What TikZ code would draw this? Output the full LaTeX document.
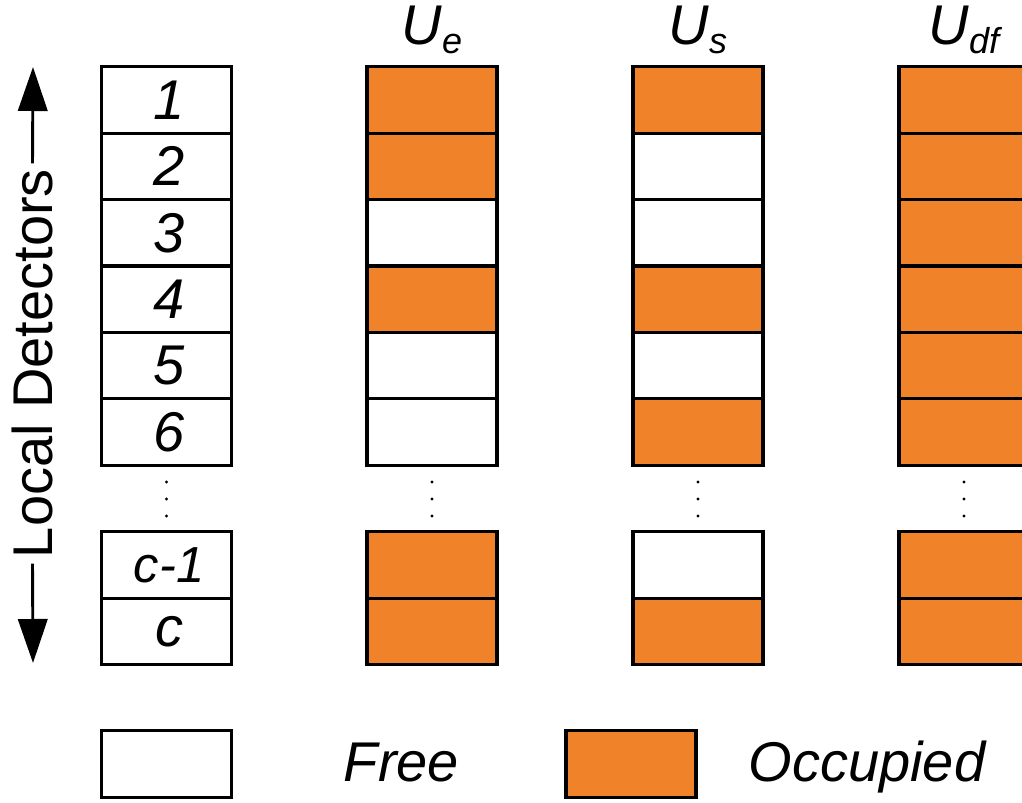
\documentclass[tikz,border=0pt]{standalone}
\usepackage{fontspec}
\setmainfont{Liberation Sans}
\usepackage{xcolor}
\usetikzlibrary{arrows.meta,positioning}
\definecolor{occ}{HTML}{F0832A}
\newcommand{\usub}[1]{\textit{U\raisebox{-6pt}{\fontsize{27}{30}\selectfont #1}}}

\begin{document}
\begin{tikzpicture}[x=0.75pt,y=-0.75pt,
  big/.style={font=\fontsize{42}{48}\selectfont},
  cell/.style={draw,line width=2.4pt,minimum width=97.5pt,minimum height=49.8pt,
    inner sep=0pt,big,font=\fontsize{42}{48}\selectfont\itshape},
  head/.style={big,anchor=base,inner sep=0pt},
  legtxt/.style={big,font=\fontsize{42}{48}\selectfont\itshape,anchor=base,inner sep=0pt},
  ar/.style={-{Triangle[length=33pt,width=22pt]},line width=2.2pt}]
\useasboundingbox (0,0) rectangle (1022,803);
\clip (0,0) rectangle (1022,803);
% column heads
\node[head] (hue)  at (432,45) {\usub{e}};
\node[head] (hus)  at (698,45) {\usub{s}};
\node[head] (hudf) at (964,45) {\usub{df}};
% detector cells and their states
\foreach \lab/\fe/\fs/\y [count=\i] in {1/occ/occ/100, 2/occ/white/166.4,
    3/white/white/232.8, 4/occ/occ/299.2, 5/white/white/365.6, 6/white/occ/432,
    {\fontsize{38}{42}\selectfont c-1}/occ/white/565, c/occ/occ/631.4} {
  \node[cell] (det\i) at (166.5,\y) {\hspace{4pt}\lab};
  \node[cell,fill=\fe] (ue\i) at (432,\y) {};
  \node[cell,fill=\fs] (us\i) at (698,\y) {};
  \node[cell,fill=occ] (udf\i) at (964,\y) {};
}
% gap dots
\foreach \cx in {166.5,432,698,964}
  \foreach \dy in {482,499,516}
    \fill (\cx,\dy) circle (1.7);
% detector axis
\node[big,rotate=90,inner sep=4pt] (axis) at (32.5,363.5) {Local Detectors};
\coordinate (axtop) at (33,67);
\coordinate (axbot) at (33,663);
\draw[ar] (axis.east) -- (axtop);
\draw[ar] (axis.west) -- (axbot);
% legend
\node[cell] (freebox) at (166.5,764) {};
\node[legtxt] (freetxt) at (401.5,781) {Free};
\node[cell,fill=occ] (occbox) at (631,764) {};
\node[legtxt] (occtxt) at (867,781) {Occupied};
\end{tikzpicture}
\end{document}
